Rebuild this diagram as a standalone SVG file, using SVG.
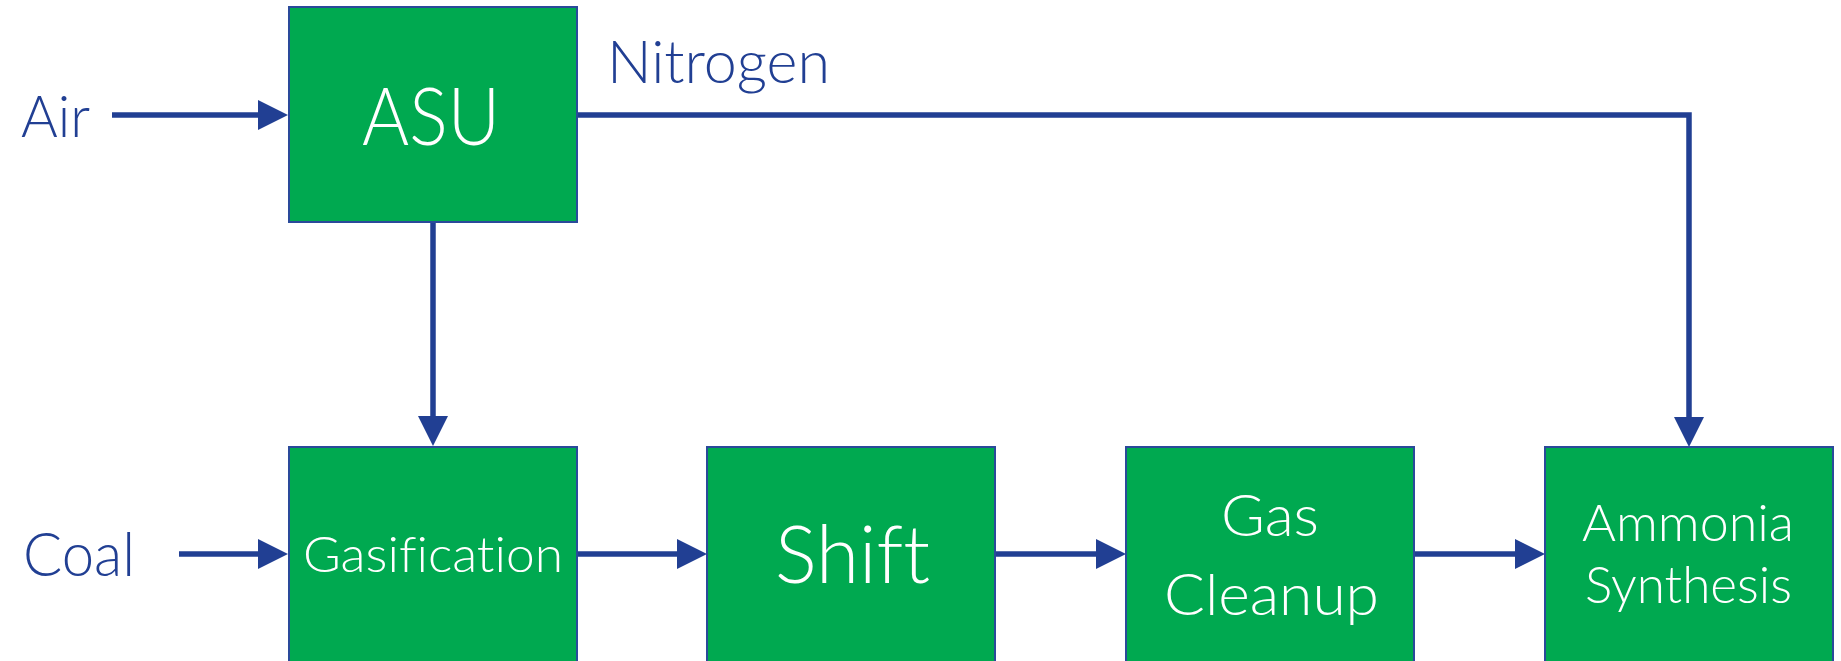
<svg xmlns="http://www.w3.org/2000/svg" width="1841" height="661" viewBox="0 0 1841 661">
  <style>
    .box { fill: #00A950; stroke: #2A4A9A; stroke-width: 2; }
    .flow { fill: none; stroke: #213F93; stroke-width: 5.5; }
    .lbl { font-family: Lato, "Open Sans", "Liberation Sans", sans-serif; font-weight: 300; font-variant-ligatures: none; font-feature-settings: "liga" 0, "clig" 0; }
    .out { fill: #213F93; }
    .in { fill: #FFFFFF; }
  </style>
  <defs>
    <marker id="head" markerUnits="userSpaceOnUse" viewBox="0 0 30 30" markerWidth="30" markerHeight="30" refX="0" refY="15" orient="auto" overflow="visible">
      <path d="M0,0 L30,15 L0,30 Z" fill="#213F93"/>
    </marker>
  </defs>

  <rect width="1841" height="661" fill="#FFFFFF"/>

  <!-- process flow -->
  <g id="connectors">
    <path class="flow" d="M112,115 H258" marker-end="url(#head)"/>
    <path class="flow" d="M577,115 H1689 V417" marker-end="url(#head)"/>
    <path class="flow" d="M433,222 V416" marker-end="url(#head)"/>
    <path class="flow" d="M179,554 H258" marker-end="url(#head)"/>
    <path class="flow" d="M577,554 H677" marker-end="url(#head)"/>
    <path class="flow" d="M995,554 H1096" marker-end="url(#head)"/>
    <path class="flow" d="M1414,554 H1515" marker-end="url(#head)"/>
  </g>

  <!-- stream labels -->
  <g id="labels">
    <text class="lbl out" x="21" y="137" font-size="58" textLength="69" lengthAdjust="spacingAndGlyphs">Air</text>
    <text class="lbl out" x="607" y="83" font-size="59" textLength="223" lengthAdjust="spacingAndGlyphs">Nitrogen</text>
    <text class="lbl out" x="23" y="576" font-size="61" textLength="112" lengthAdjust="spacingAndGlyphs">Coal</text>
  </g>

  <!-- units -->
  <g id="asu">
    <rect class="box" x="289" y="7" width="288" height="215"/>
    <text class="lbl in" x="362" y="145" font-size="80" textLength="138" lengthAdjust="spacingAndGlyphs">ASU</text>
  </g>
  <g id="gasification">
    <rect class="box" x="289" y="447" width="288" height="230"/>
    <text class="lbl in" x="303" y="572" font-size="50" textLength="260" lengthAdjust="spacingAndGlyphs">Gasification</text>
  </g>
  <g id="shift">
    <rect class="box" x="707" y="447" width="288" height="230"/>
    <text class="lbl in" x="775" y="583" font-size="80" textLength="155" lengthAdjust="spacingAndGlyphs">Shift</text>
  </g>
  <g id="gas-cleanup">
    <rect class="box" x="1126" y="447" width="288" height="230"/>
    <text class="lbl in" x="1221" y="536" font-size="57" textLength="98" lengthAdjust="spacingAndGlyphs">Gas</text>
    <text class="lbl in" x="1164" y="615" font-size="57" textLength="215" lengthAdjust="spacingAndGlyphs">Cleanup</text>
  </g>
  <g id="ammonia-synthesis">
    <rect class="box" x="1545" y="447" width="288" height="230"/>
    <text class="lbl in" x="1582" y="541" font-size="52" textLength="212" lengthAdjust="spacingAndGlyphs">Ammonia</text>
    <text class="lbl in" x="1585" y="603" font-size="51" textLength="207" lengthAdjust="spacingAndGlyphs">Synthesis</text>
  </g>
</svg>
